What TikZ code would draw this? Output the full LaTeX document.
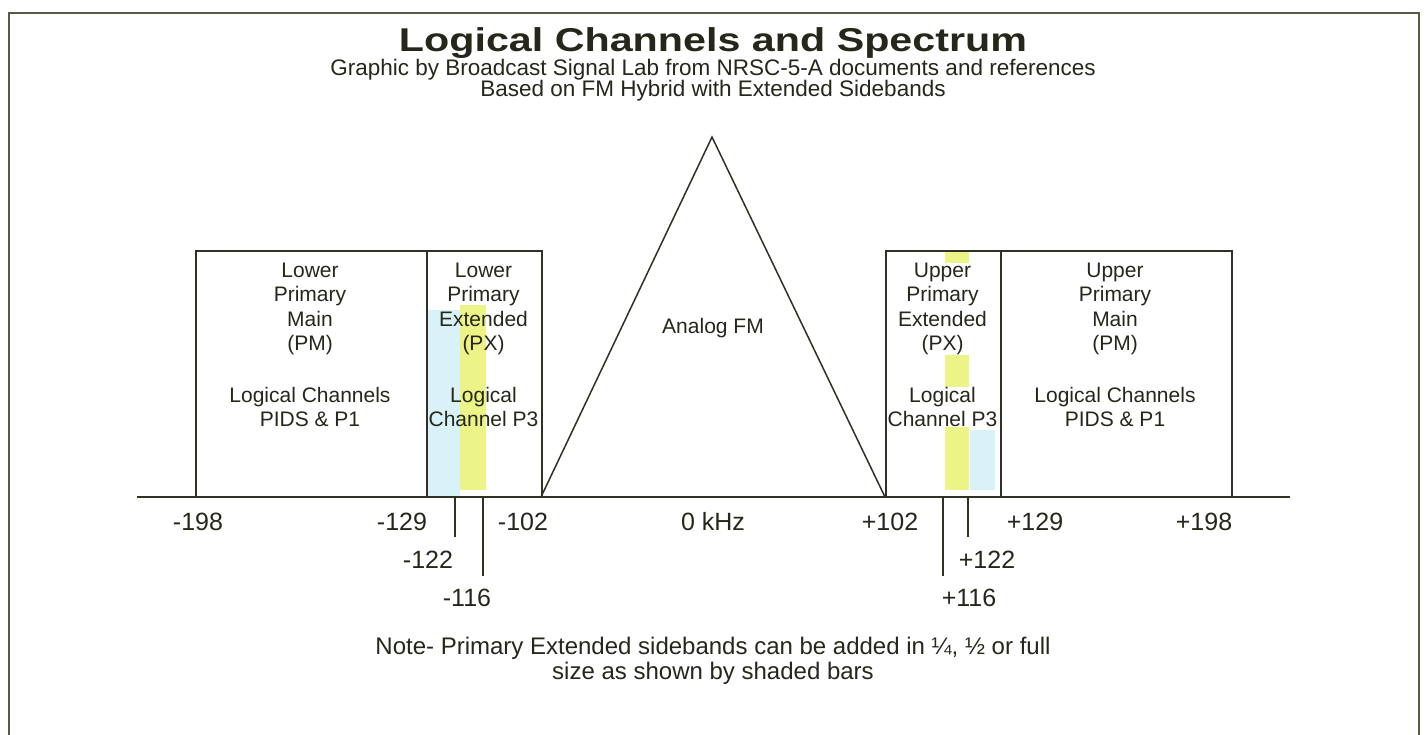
\documentclass[tikz,border=0pt]{standalone}
\usepackage{fontspec}
\setmainfont{Liberation Sans}
\usepackage{graphicx}
\definecolor{txtc}{RGB}{38,38,26}
\definecolor{linec}{RGB}{48,48,36}
\definecolor{framec}{RGB}{88,90,70}
\definecolor{cyanbar}{RGB}{216,242,247}
\definecolor{yelbar}{RGB}{236,243,135}
\tikzset{
  axisline/.style={draw=linec, line width=2.6pt},
  boxline/.style={draw=linec, line width=1.5pt},
  tickline/.style={draw=linec, line width=1.4pt},
  boxtxt/.style={font=\fontsize{21}{24.4}\selectfont, align=center, text=txtc, inner sep=0pt},
  lbl/.style={font=\fontsize{25}{30}\selectfont, text=txtc, inner sep=0pt},
  notetxt/.style={font=\fontsize{24}{25}\selectfont, text=txtc, inner sep=0pt},
  subtxt/.style={font=\fontsize{22.5}{24}\selectfont, text=txtc, inner sep=0pt},
}
\begin{document}
\begin{tikzpicture}[x=1pt,y=-1pt]
\useasboundingbox (0,0) rectangle (1428,735);
% frame
\coordinate (fbl) at (9,740);
\coordinate (ftl) at (9,13);
\coordinate (ftr) at (1419,13);
\coordinate (fbr) at (1419,740);
\draw[framec, line width=2.8pt] (fbl) -- (ftl) -- (ftr) -- (fbr);
% title
\node[text=txtc, inner sep=0pt, font=\fontsize{33}{36}\bfseries] (title) at (713,43) {\scalebox{1.25}[1]{Logical Channels and Spectrum}};
\node[subtxt] (sub1) at (713,69.5) {Graphic by Broadcast Signal Lab from NRSC-5-A documents and references};
\node[subtxt] (sub2) at (713,91) {Based on FM Hybrid with Extended Sidebands};
% shaded bars
\fill[cyanbar] (426,310) rectangle (460,497);
\fill[yelbar] (460,305) rectangle (486,490);
\fill[yelbar] (945,252) rectangle (969,490);
\fill[cyanbar] (970,430) rectangle (995,490);
% boxes
\node[boxline, minimum width=231pt, minimum height=245pt, anchor=south west, inner sep=0pt] (lpm) at (195,497) {};
\node[boxline, minimum width=115pt, minimum height=245pt, anchor=south west, inner sep=0pt] (lpx) at (426,497) {};
\node[boxline, minimum width=115pt, minimum height=245pt, anchor=south west, inner sep=0pt] (upx) at (885,497) {};
\node[boxline, minimum width=231pt, minimum height=245pt, anchor=south west, inner sep=0pt] (upm) at (1000,497) {};
% box texts
\node[boxtxt] (lpmA) at (310,309) {Lower\\Primary\\Main\\(PM)};
\node[boxtxt] (lpmB) at (310,407) {Logical Channels\\PIDS \& P1};
\node[boxtxt] (lpxA) at (483.5,309) {Lower\\Primary\\Extended\\(PX)};
\node[boxtxt] (lpxB) at (483.5,407) {Logical\\Channel P3};
\node[boxtxt, fill=white] (upxA) at (942.5,309) {Upper\\Primary\\Extended\\(PX)};
\node[boxtxt, fill=white] (upxB) at (942.5,407) {Logical\\Channel P3};
\node[boxtxt] (upmA) at (1115,309) {Upper\\Primary\\Main\\(PM)};
\node[boxtxt] (upmB) at (1115,407) {Logical Channels\\PIDS \& P1};
% triangle
\coordinate (triL) at (541,497);
\coordinate (apex) at (712,137);
\coordinate (triR) at (885,497);
\draw[boxline, line join=miter] (triL) -- (apex) -- (triR);
\node[boxtxt] (afm) at (713,328) {Analog FM};
% axis
\coordinate (axL) at (137,497);
\coordinate (axR) at (1290,497);
\draw[axisline] (axL) -- (axR);
% ticks
\coordinate (t122a) at (455,497); \coordinate (t122b) at (455,537);
\coordinate (t116a) at (483,497); \coordinate (t116b) at (483,576);
\coordinate (u116a) at (943,497); \coordinate (u116b) at (943,576);
\coordinate (u122a) at (968,497); \coordinate (u122b) at (968,537);
\draw[tickline] (t122a) -- (t122b);
\draw[tickline] (t116a) -- (t116b);
\draw[tickline] (u116a) -- (u116b);
\draw[tickline] (u122a) -- (u122b);
% labels
\node[lbl] (l198) at (198,522) {-198};
\node[lbl] (l129) at (402,522) {-129};
\node[lbl] (l102) at (523,522) {-102};
\node[lbl] (l0) at (713,522) {0 kHz};
\node[lbl] (u102) at (890,522) {+102};
\node[lbl] (u129) at (1035,522) {+129};
\node[lbl] (u198) at (1204,522) {+198};
\node[lbl] (l122) at (428,560) {-122};
\node[lbl] (l116) at (467,598) {-116};
\node[lbl] (u122) at (987,560) {+122};
\node[lbl] (u116) at (969,598) {+116};
% note
\node[notetxt] (note1) at (713,648) {Note- Primary Extended sidebands can be added in ¼, ½ or full};
\node[notetxt] (note2) at (713,673) {size as shown by shaded bars};
\end{tikzpicture}
\end{document}
